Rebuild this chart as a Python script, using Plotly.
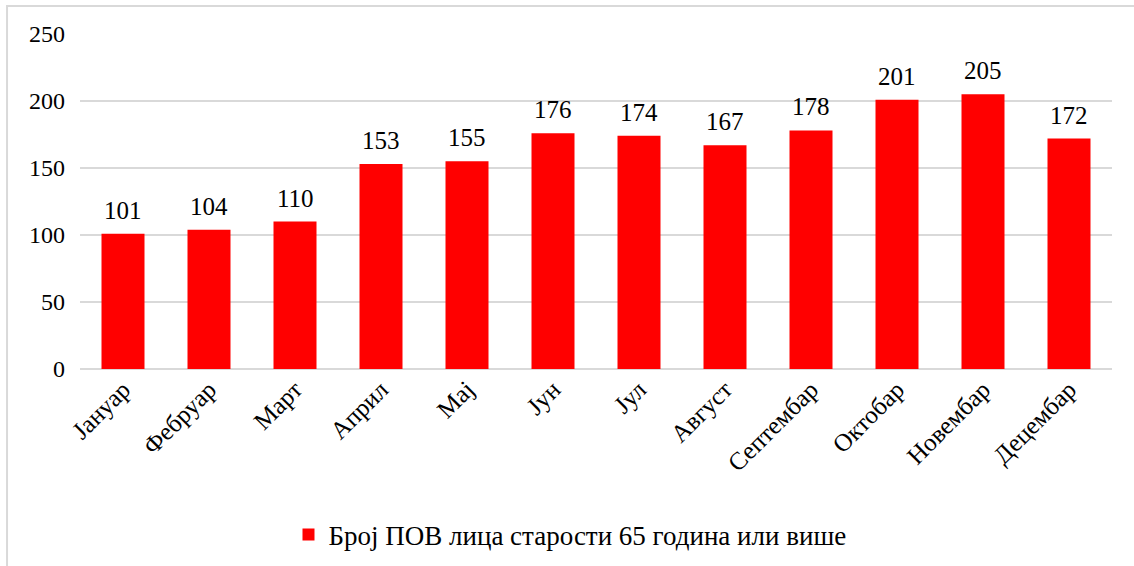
import plotly.graph_objects as go

# Monthly counts
months = ["Јануар", "Фебруар", "Март", "Април", "Мај", "Јун", "Јул",
          "Август", "Септембар", "Октобар", "Новембар", "Децембар"]
counts = [101, 104, 110, 153, 155, 176, 174, 167, 178, 201, 205, 172]
series_name = "Број ПОВ лица старости 65 година или више"
y_ticks = [0, 50, 100, 150, 200, 250]

FONT = "Liberation Serif"
GRID = "#d9d9d9"

fig = go.Figure()
fig.add_trace(go.Bar(
    x=months, y=counts, name=series_name,
    marker=dict(color="#ff0000", line=dict(width=0)),
    showlegend=True,
))

# Value labels above each bar
for m, v in zip(months, counts):
    fig.add_annotation(x=m, y=v, text=str(v), showarrow=False,
                       yanchor="bottom", yshift=8,
                       font=dict(family=FONT, size=25, color="#000000"))

# Outer frame of the chart area (right and bottom edges fall outside the page)
fig.add_shape(type="rect", xref="paper", yref="paper",
              x0=-0.0707, x1=1.2, y0=-0.8, y1=1.0836,
              line=dict(color=GRID, width=2), layer="below")

fig.update_layout(
    width=1134, height=566,
    margin=dict(l=80, r=22, t=34, b=197, autoexpand=False),
    paper_bgcolor="white", plot_bgcolor="white",
    font=dict(family=FONT, size=24, color="#000000"),
    bargap=0.5,
    showlegend=True,
    legend=dict(orientation="h", x=0.4748, xanchor="center",
                y=-0.4955, yanchor="middle",
                font=dict(family=FONT, size=27, color="#000000"),
                itemwidth=30),
    xaxis=dict(tickangle=-45, showgrid=False, showline=False, ticks="",
               automargin=False, tickfont=dict(family=FONT, size=25)),
    yaxis=dict(range=[0, 250], tickvals=y_ticks, showgrid=True,
               gridcolor=GRID, gridwidth=1.5, zeroline=True,
               zerolinecolor=GRID, zerolinewidth=1.5, showline=False,
               ticks="", ticklabelstandoff=14, automargin=False,
               tickfont=dict(family=FONT, size=24)),
)

fig.write_html("out.html")
